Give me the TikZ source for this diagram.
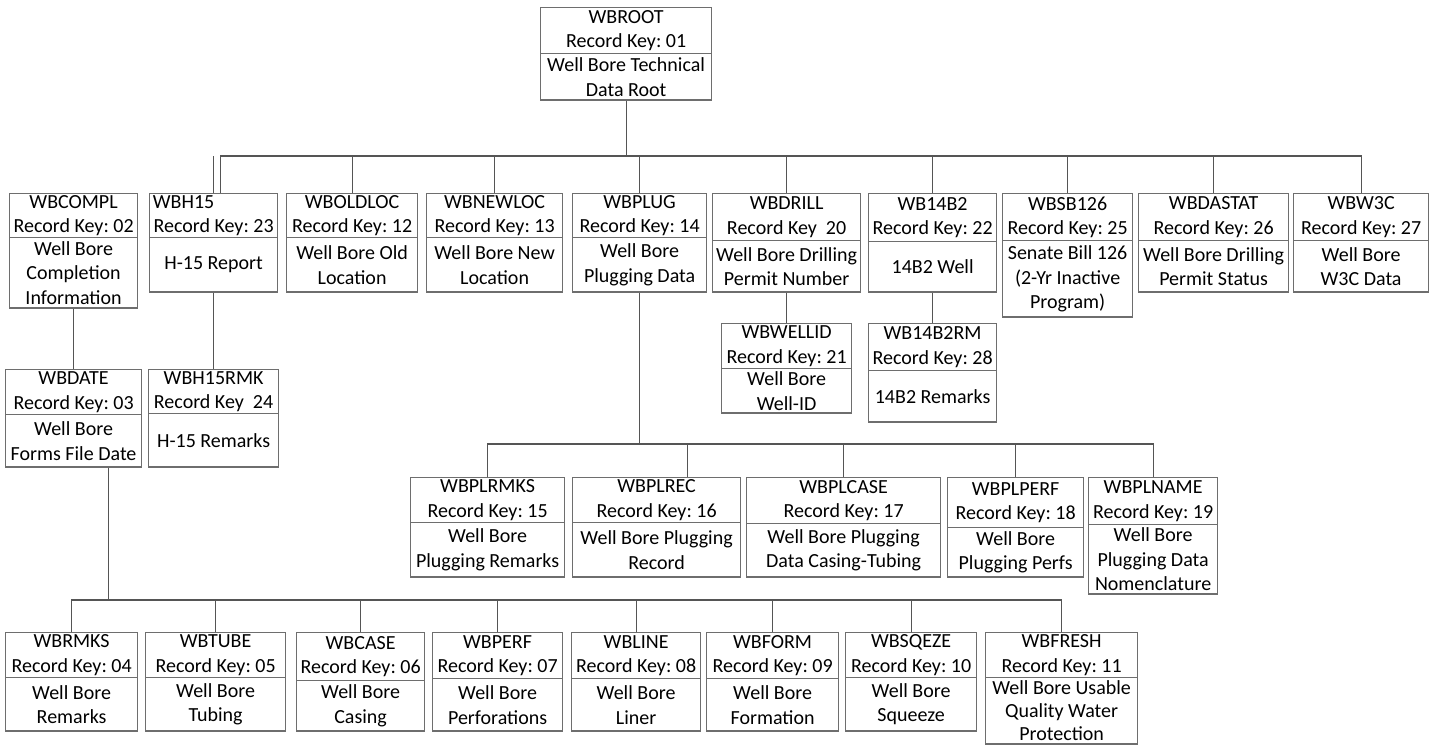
\documentclass[tikz,border=0pt]{standalone}
\usepackage{fontspec}
\setmainfont{Carlito}
\usetikzlibrary{shapes.multipart}
\definecolor{boxgray}{HTML}{6E6E6E}
\definecolor{linkgray}{HTML}{555555}
\newcommand{\recpart}[3]{\parbox[c][#2pt][c]{#1pt}{\centering #3}}
\frenchspacing

\begin{document}
\begin{tikzpicture}[
		x=1pt, y=-1pt,
		every node/.style={rectangle split, rectangle split parts=2, draw=boxgray, line width=1.2pt,
			inner sep=0pt, anchor=north west, font=\fontsize{20}{24.5}\selectfont},
		link/.style={draw=linkgray, line width=1.2pt}
	]
  \fill[white] (0,0) rectangle (1442,744);
  \useasboundingbox (0,0) rectangle (1442,744);
  % root
  \node (wbroot) at (540,7) {\recpart{171}{45}{WBROOT\\Record Key: 01}\nodepart{two}\recpart{171}{45}{Well Bore Technical\\Data Root}};
  % first level
  \node (wbcompl) at (9,193) {\recpart{128}{43}{WBCOMPL\\Record Key: 02}\nodepart{two}\recpart{128}{69}{Well Bore\\Completion\\Information}};
  \node (wbh15) at (149,193) {\recpart{128}{43}{\makebox[\linewidth][l]{\,WBH15}\\Record Key: 23}\nodepart{two}\recpart{128}{53}{H-15 Report}};
  \node (wboldloc) at (286,193) {\recpart{131}{43}{WBOLDLOC\\Record Key: 12}\nodepart{two}\recpart{131}{53}{Well Bore Old\\Location}};
  \node (wbnewloc) at (426,193) {\recpart{136}{43}{WBNEWLOC\\Record Key: 13}\nodepart{two}\recpart{136}{53}{Well Bore New\\Location}};
  \node (wbplug) at (572,193) {\recpart{134}{43}{WBPLUG\\Record Key: 14}\nodepart{two}\recpart{134}{53}{Well Bore\\Plugging Data}};
  \node (wbdrill) at (712,193) {\recpart{148}{46}{WBDRILL\\Record Key~~20}\nodepart{two}\recpart{148}{50}{Well Bore Drilling\\Permit Number}};
  \node (wb14b2) at (868,193) {\recpart{128}{47}{WB14B2\\Record Key: 22}\nodepart{two}\recpart{128}{49}{14B2 Well}};
  \node (wbsb126) at (1002,193) {\recpart{130}{46}{WBSB126\\Record Key: 25}\nodepart{two}\recpart{130}{75}{Senate Bill 126\\(2-Yr Inactive\\Program)}};
  \node (wbdastat) at (1138,193) {\recpart{150}{46}{WBDASTAT\\Record Key: 26}\nodepart{two}\recpart{150}{50}{Well Bore Drilling\\Permit Status}};
  \node (wbw3c) at (1293,193) {\recpart{135}{46}{WBW3C\\Record Key: 27}\nodepart{two}\recpart{135}{50}{Well Bore\\W3C Data}};
  % second level
  \node (wbdate) at (5,369) {\recpart{136}{44}{WBDATE\\Record Key: 03}\nodepart{two}\recpart{136}{51}{Well Bore\\Forms File Date}};
  \node (wbh15rmk) at (148,369) {\recpart{130}{43}{WBH15RMK\\Record Key~~24}\nodepart{two}\recpart{130}{52}{H-15 Remarks}};
  \node (wbwellid) at (721,323) {\recpart{130}{44}{WBWELLID\\Record Key: 21}\nodepart{two}\recpart{130}{43}{Well Bore\\Well-ID}};
  \node (wb14b2rm) at (868,323) {\recpart{128}{46}{WB14B2RM\\Record Key: 28}\nodepart{two}\recpart{128}{50}{14B2 Remarks}};
  % plugging records
  \node (wbplrmks) at (410,477) {\recpart{154}{44}{WBPLRMKS\\Record Key: 15}\nodepart{two}\recpart{154}{53}{Well Bore\\Plugging Remarks}};
  \node (wbplrec) at (572,477) {\recpart{168}{44}{WBPLREC\\Record Key: 16}\nodepart{two}\recpart{168}{53}{Well Bore Plugging\\Record}};
  \node (wbplcase) at (746,477) {\recpart{194}{45}{WBPLCASE\\Record Key: 17}\nodepart{two}\recpart{194}{52}{Well Bore Plugging\\Data Casing-Tubing}};
  \node (wbplperf) at (947,477) {\recpart{136}{49}{WBPLPERF\\Record Key: 18}\nodepart{two}\recpart{136}{48}{Well Bore\\Plugging Perfs}};
  \node (wbplname) at (1088,477) {\recpart{129}{46}{WBPLNAME\\Record Key: 19}\nodepart{two}\recpart{129}{68}{Well Bore\\Plugging Data\\Nomenclature}};
  % date records
  \node (wbrmks) at (5,632) {\recpart{132}{44}{WBRMKS\\Record Key: 04}\nodepart{two}\recpart{132}{52}{Well Bore\\Remarks}};
  \node (wbtube) at (145,632) {\recpart{140}{44}{WBTUBE\\Record Key: 05}\nodepart{two}\recpart{140}{52}{Well Bore\\Tubing}};
  \node (wbcase) at (296,632) {\recpart{128}{47}{WBCASE\\Record Key: 06}\nodepart{two}\recpart{128}{49}{Well Bore\\Casing}};
  \node (wbperf) at (432,632) {\recpart{130}{45}{WBPERF\\Record Key: 07}\nodepart{two}\recpart{130}{51}{Well Bore\\Perforations}};
  \node (wbline) at (571,632) {\recpart{129}{45}{WBLINE\\Record Key: 08}\nodepart{two}\recpart{129}{51}{Well Bore\\Liner}};
  \node (wbform) at (706,632) {\recpart{132}{45}{WBFORM\\Record Key: 09}\nodepart{two}\recpart{132}{51}{Well Bore\\Formation}};
  \node (wbsqeze) at (845,632) {\recpart{131}{44}{WBSQEZE\\Record Key: 10}\nodepart{two}\recpart{131}{52}{Well Bore\\Squeeze}};
  \node (wbfresh) at (985,632) {\recpart{152}{44}{WBFRESH\\Record Key: 11}\nodepart{two}\recpart{152}{65}{\fontsize{20}{23}\selectfont Well Bore Usable\\Quality Water\\Protection}};
  % buses
  \coordinate (busa) at (0,156);
  \coordinate (busb) at (0,444);
  \coordinate (busc) at (0,600);
  \draw[link] (wbroot.south) -- (wbroot.south |- busa);
  \draw[link] ([xshift=7pt]wbh15.north) |- (wbw3c.north |- busa) -- (wbw3c.north);
  \draw[link] (wbh15.north) -- (wbh15.north |- busa);
  \foreach \rec in {wboldloc, wbnewloc, wbplug, wbdrill, wb14b2, wbsb126, wbdastat}
    \draw[link] (\rec.north) -- (\rec.north |- busa);
  \draw[link] (wbcompl.south) -- (wbdate.north);
  \draw[link] (wbh15.south) -- (wbh15rmk.north);
  \draw[link] (wbdrill.south) -- (wbwellid.north);
  \draw[link] (wb14b2.south) -- (wb14b2rm.north);
  \draw[link] (wbplug.south) -- (wbplug.south |- busb);
  \draw[link] (wbplrmks.north) |- (wbplname.north |- busb) -- (wbplname.north);
  \draw[link] ([xshift=31pt]wbplrec.north) -- ([xshift=31pt]wbplrec.north |- busb);
  \foreach \rec in {wbplcase, wbplperf}
    \draw[link] (\rec.north) -- (\rec.north |- busb);
  \draw[link] ([xshift=35pt]wbdate.south) -- ([xshift=35pt]wbdate.south |- busc);
  \draw[link] (wbrmks.north) |- (wbfresh.north |- busc) -- (wbfresh.north);
  \foreach \rec in {wbtube, wbcase, wbperf, wbline, wbform, wbsqeze}
    \draw[link] (\rec.north) -- (\rec.north |- busc);
\end{tikzpicture}
\end{document}
